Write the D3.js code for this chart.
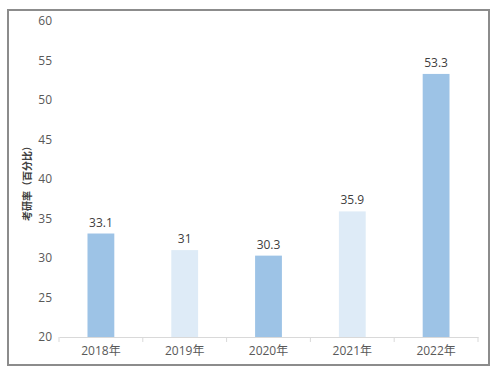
<!DOCTYPE html>
<html><head><meta charset="utf-8">
<script src="https://cdn.jsdelivr.net/npm/d3@7"></script>
<style>body{margin:0;background:#fff}svg{display:block}</style>
</head><body>
<script>
const categories = ["2018年","2019年","2020年","2021年","2022年"];
const values = [33.1, 31, 30.3, 35.9, 53.3];
const barColors = ["#9dc3e6","#deebf7","#9dc3e6","#deebf7","#9dc3e6"];
const yTicks = [20,25,30,35,40,45,50,55,60];
const yTitle = "考研率（百分比）";

const W=499,H=380;
const svg=d3.select("body").append("svg").attr("width",W).attr("height",H);
svg.append("rect").attr("x",8).attr("y",10).attr("width",481).attr("height",355)
  .attr("fill","#fff").attr("stroke","#8c8c8c").attr("stroke-width",2);

const pL=59,pR=478,pT=21,pB=337;
const x=d3.scaleBand().domain(categories).range([pL,pR]).paddingInner(0.68).paddingOuter(0.34);
const xb=d3.scaleBand().domain(categories).range([pL,pR]);
const y=d3.scaleLinear().domain([20,60]).range([pB,pT]);
const font="'Open Sans','Noto Sans CJK SC',sans-serif";

// y labels
svg.append("g").selectAll("text").data(yTicks).join("text")
  .attr("x",52).attr("y",d=>y(d)).attr("dy","0.35em").attr("text-anchor","end")
  .attr("font-family",font).attr("font-size",12).attr("fill","#595959").text(d=>d);

// bars
svg.append("g").selectAll("rect").data(values).join("rect")
  .attr("x",(d,i)=>x(categories[i])).attr("width",x.bandwidth())
  .attr("y",d=>y(d)).attr("height",d=>y(20)-y(d))
  .attr("fill",(d,i)=>barColors[i]);

// value labels
svg.append("g").selectAll("text").data(values).join("text")
  .attr("x",(d,i)=>x(categories[i])+x.bandwidth()/2).attr("y",d=>y(d)-7)
  .attr("text-anchor","middle").attr("font-family",font).attr("font-size",12).attr("fill","#404040")
  .text(d=>d);

// x axis
const xa=svg.append("g").attr("transform",`translate(0,${pB})`)
  .call(d3.axisBottom(xb).tickSize(0).tickPadding(9));
xa.select(".domain").attr("stroke","#d9d9d9");
xa.selectAll("text").attr("font-family",font).attr("font-size",12).attr("fill","#595959");
// boundary ticks
const bounds=categories.map(c=>xb(c)).concat([pR]);
svg.append("g").selectAll("line").data(bounds).join("line")
  .attr("x1",d=>d).attr("x2",d=>d).attr("y1",pB).attr("y2",pB+5).attr("stroke","#d9d9d9");

// y title
svg.append("text").attr("transform",`translate(31,181) rotate(-90)`)
  .attr("text-anchor","middle").attr("font-family","'Noto Sans CJK SC',sans-serif")
  .attr("font-size",10).attr("font-weight","bold").attr("fill","#404040").text(yTitle);
</script>
</body></html>
